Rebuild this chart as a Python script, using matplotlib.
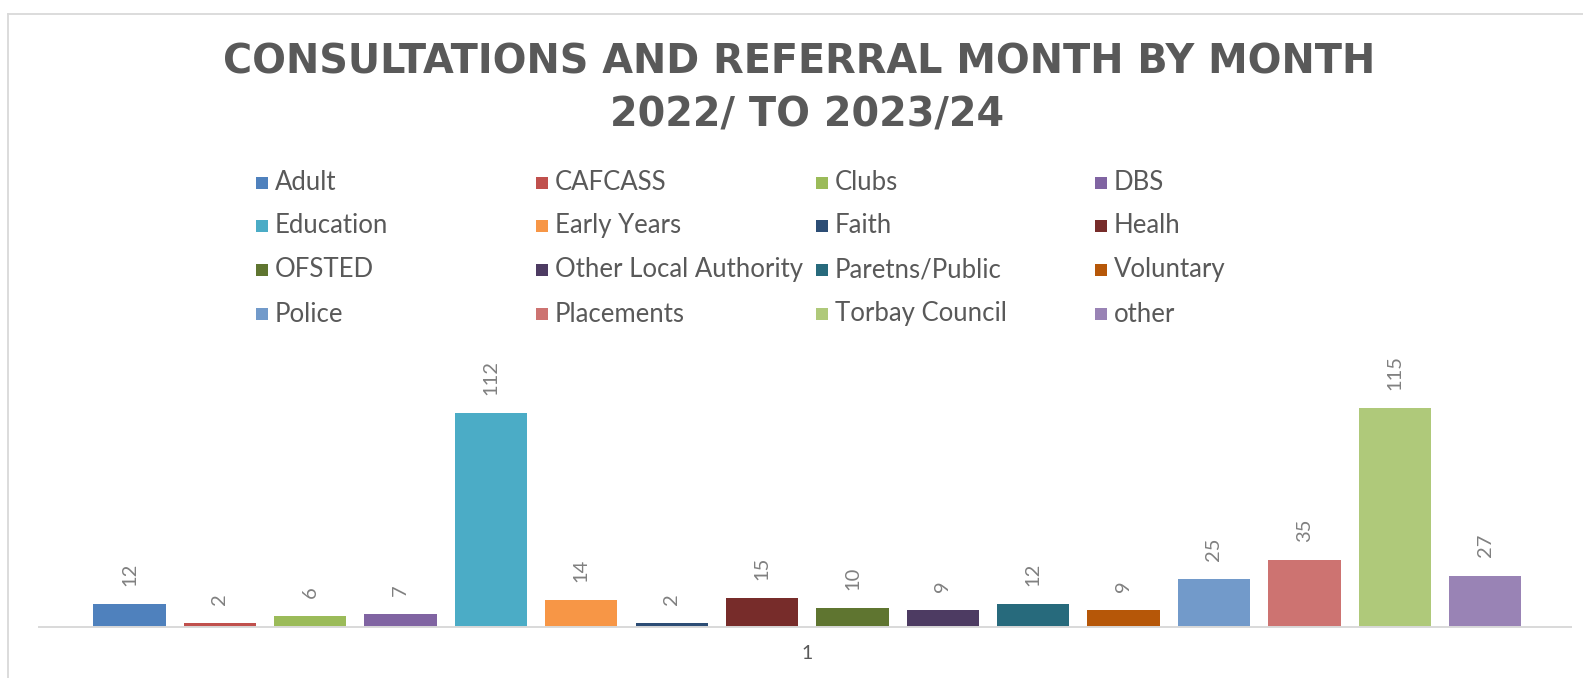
import matplotlib
matplotlib.use("Agg")
import matplotlib.pyplot as plt
from matplotlib.patches import Rectangle
from matplotlib.lines import Line2D

# ---- data ----
categories = ["1"]
series = ["Adult", "CAFCASS", "Clubs", "DBS",
          "Education", "Early Years", "Faith", "Healh",
          "OFSTED", "Other Local Authority", "Paretns/Public", "Voluntary",
          "Police", "Placements", "Torbay Council", "other"]
values = [12, 2, 6, 7, 112, 14, 2, 15, 10, 9, 12, 9, 25, 35, 115, 27]
colors = ["#4F81BD", "#C0504D", "#9BBB59", "#8064A2",
          "#4BACC6", "#F79646", "#2C4D75", "#772C2A",
          "#5F7530", "#4D3B62", "#276A7C", "#B65708",
          "#729ACA", "#CD7371", "#AFC97A", "#9983B5"]
title_lines = ["CONSULTATIONS AND REFERRAL MONTH BY MONTH", "2022/ TO 2023/24"]

W, H = 1583, 678
fig = plt.figure(figsize=(W / 100, H / 100), dpi=100)
fig.patch.set_facecolor("white")

def fx(px):
    return px / W

def fy(py):
    return 1 - py / H

# chart frame (left and top edges visible)
fig.add_artist(Line2D([fx(8), fx(8)], [fy(14), 0], color="#D9D9D9", lw=1.3,
                      transform=fig.transFigure))
fig.add_artist(Line2D([fx(8), 1], [fy(14), fy(14)], color="#D9D9D9", lw=1.3,
                      transform=fig.transFigure))

# title
fig.text(fx(799), fy(63), title_lines[0],
         ha="center", va="center", fontsize=28.6, fontweight="bold",
         family="DejaVu Sans", color="#595959")
fig.text(fx(807), fy(116), title_lines[1],
         ha="center", va="center", fontsize=28.6, fontweight="bold",
         family="DejaVu Sans", color="#595959")

# legend (manual, Excel style evenly spaced columns)
col_x = [256, 536, 816, 1095]
row_y = [183, 226, 270, 314]
sq = 12
for i, (name, c) in enumerate(zip(series, colors)):
    r, k = divmod(i, 4)
    x0, y0 = col_x[k], row_y[r]
    fig.add_artist(Rectangle((fx(x0), fy(y0 + sq / 2)), sq / W, sq / H,
                             transform=fig.transFigure, facecolor=c,
                             edgecolor="none"))
    fig.text(fx(x0 + 19), fy(y0), name, ha="left", va="center",
             fontsize=18.5, family="Lato", color="#595959")

# plot area
base_y = 627
top_y = 341
ax = fig.add_axes([fx(39), fy(base_y), fx(1571) - fx(39), (base_y - top_y) / H])
ax.set_facecolor("none")
xs = list(range(len(series)))
bars = ax.bar(xs, values, width=0.80, color=colors, zorder=2)
ax.set_xlim(-1.0, 15.95)
ax.set_ylim(0, 150)
for b, v in zip(bars, values):
    ax.annotate(str(v), (b.get_x() + b.get_width() / 2, b.get_height()),
                xytext=(0, 13), textcoords="offset points",
                rotation=90, ha="center", va="bottom",
                fontsize=14.5, family="Lato", color="#808080")

for s in ["top", "right", "left"]:
    ax.spines[s].set_visible(False)
ax.spines["bottom"].set_color("#D9D9D9")
ax.spines["bottom"].set_linewidth(1.4)
ax.set_yticks([])
ax.set_xticks([7.5])
ax.set_xticklabels(categories, fontsize=14, family="Lato", color="#595959")
ax.tick_params(axis="x", length=0, pad=13)

fig.savefig("out.png", dpi=100, facecolor="white")
